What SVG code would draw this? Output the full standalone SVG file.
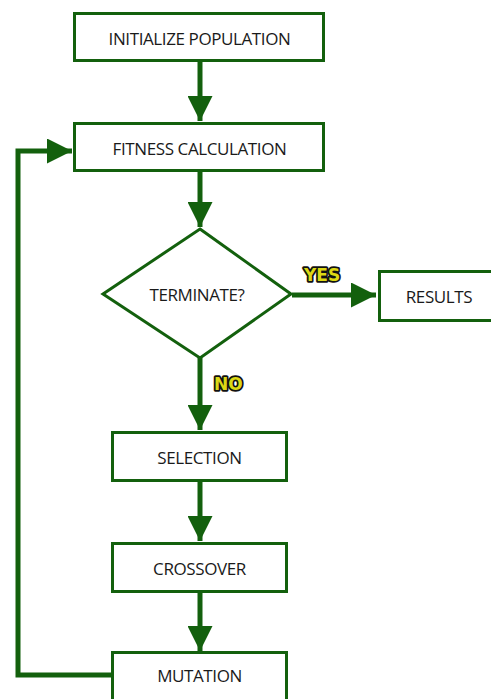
<svg xmlns="http://www.w3.org/2000/svg" width="491" height="699" viewBox="0 0 491 699">
<style>
.box{fill:#fff;stroke:#13600d;stroke-width:3}
.lbl{font-family:"Open Sans","Liberation Sans",sans-serif;font-size:17px;letter-spacing:-0.4px;fill:#1a1a1a;text-anchor:middle;dominant-baseline:central}
.edge{fill:none;stroke:#13600d;stroke-width:5}
.tag{font-family:"DejaVu Sans","Liberation Sans",sans-serif;font-weight:bold;font-size:17px;fill:#dcd814;stroke:#111;stroke-width:3.5;paint-order:stroke;stroke-linejoin:round}
</style>
<defs>
<marker id="ah" markerWidth="5" markerHeight="5" refX="5" refY="2.5" orient="auto" markerUnits="strokeWidth">
<path d="M0,0 L5,2.5 L0,5 Z" fill="#13600d"/>
</marker>
</defs>
<rect width="491" height="699" fill="#fff"/>
<g id="connectors">
<path class="edge" d="M200,62 V121" marker-end="url(#ah)"/>
<path class="edge" d="M200,172 V227" marker-end="url(#ah)"/>
<path class="edge" d="M292,295 H376" marker-end="url(#ah)"/>
<path class="edge" d="M200,358 V430" marker-end="url(#ah)"/>
<path class="edge" d="M200,481 V541" marker-end="url(#ah)"/>
<path class="edge" d="M200,592 V651" marker-end="url(#ah)"/>
<path class="edge" d="M112,675 H18 V151 H72" marker-end="url(#ah)"/>
<text class="tag" x="304" y="281">YES</text>
<text class="tag" x="214" y="390">NO</text>
</g>
<g id="init">
<rect class="box" x="74.5" y="13.5" width="249" height="47"/>
<text class="lbl" x="199.5" y="38">INITIALIZE POPULATION</text>
</g>
<g id="fitness">
<rect class="box" x="74.5" y="123.5" width="249" height="47"/>
<text class="lbl" x="199.5" y="148">FITNESS CALCULATION</text>
</g>
<g id="terminate">
<polygon class="box" points="200,229 291,294 200,358 103,294"/>
<text class="lbl" x="197" y="294">TERMINATE?</text>
</g>
<g id="results">
<rect class="box" x="379.5" y="271.5" width="115" height="49"/>
<text class="lbl" x="439" y="296">RESULTS</text>
</g>
<g id="selection">
<rect class="box" x="112.5" y="432.5" width="174" height="48"/>
<text class="lbl" x="199.5" y="457">SELECTION</text>
</g>
<g id="crossover">
<rect class="box" x="112.5" y="543.5" width="174" height="48"/>
<text class="lbl" x="199.5" y="568">CROSSOVER</text>
</g>
<g id="mutation">
<rect class="box" x="112.5" y="652.5" width="174" height="52"/>
<text class="lbl" x="199.5" y="675">MUTATION</text>
</g>
</svg>
